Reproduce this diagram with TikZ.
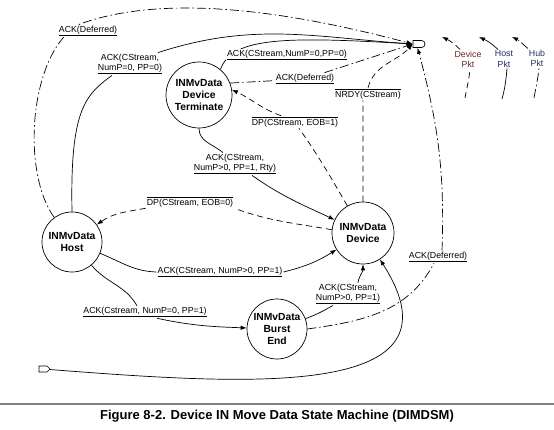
\documentclass[tikz,border=0pt]{standalone}
\usepackage{fontspec}
\setmainfont{Liberation Sans}
\usepackage{tikz}
\usetikzlibrary{arrows.meta, shapes.misc, shapes.symbols}
\definecolor{devred}{RGB}{110,35,35}
\definecolor{hostblue}{RGB}{35,40,100}
\definecolor{hubblue}{RGB}{40,50,90}
\tikzset{
  dsmstate/.style={
    draw=black, fill=white, circle,
    line width=0.7pt, inner sep=0pt, align=center,
    font=\fontsize{10.3}{11.6}\selectfont\bfseries
  },
  lbl/.style={
    fill=white, inner sep=1pt, align=center,
    font=\fontsize{8.8}{10.2}\selectfont
  },
  pkt/.style={
    inner sep=1pt, align=center,
    font=\fontsize{8.8}{10.2}\selectfont
  },
  trans/.style={
    -{Latex[length=6pt,width=4.5pt]}, line width=0.7pt, draw=black
  },
  retry/.style={trans, dash pattern=on 6pt off 4pt},
  defer/.style={trans, dash pattern=on 9pt off 3pt on 1.5pt off 3pt}
}
\newcommand{\ovl}[1]{$\overline{\mbox{#1}}$}

\begin{document}
\begin{tikzpicture}[x=1pt, y=1pt]
  \useasboundingbox (0,0) rectangle (554,-430);
  % states
  \node[dsmstate, minimum size=66pt] (term) at (199,-95) {INMvData\\Device\\Terminate};
  \node[dsmstate, minimum size=60pt] (host) at (72,-242) {INMvData\\Host};
  \node[dsmstate, minimum size=62pt] (dev) at (363,-233) {INMvData\\Device};
  \node[dsmstate, minimum size=60pt] (burst) at (277,-329) {INMvData\\Burst\\End};
  % off-page connectors
  \node[draw=black, line width=0.7pt, rounded rectangle, rounded rectangle left arc=none,
        minimum width=12pt, minimum height=7pt, inner sep=0pt] (exit) at (419,-44) {};
  \node[draw=black, line width=0.7pt, signal, signal to=east,
        minimum width=11pt, minimum height=6pt, inner sep=0pt] (entry) at (43,-369) {};

  % labels that sit on a connector
  \node[lbl] (hostack) at (130,-64) {ACK(CStream,\\\underline{NumP=0, PP=0)}};
  \node[lbl] (termdef) at (305,-79) {\underline{ACK(Deferred)}};
  \node[lbl] (dpeob1) at (295,-122) {\ovl{DP(CStream, EOB=1)}};
  \node[lbl] (nrdy) at (368,-94) {\ovl{NRDY(CStream)}};
  \node[lbl] (ackrty) at (235,-164) {ACK(CStream,\\\underline{NumP>0, PP=1, Rty)}};
  \node[lbl] (dpeob0) at (190,-202) {\ovl{DP(CStream, EOB=0)}};
  \node[lbl] (ackhd) at (220,-272) {\underline{ACK(CStream, NumP>0, PP=1)}};
  \node[lbl] (ackhb) at (145,-312) {\underline{ACK(Cstream, NumP=0, PP=1)}};
  \node[lbl] (ackbd) at (348,-294) {ACK(CStream,\\\underline{NumP>0, PP=1)}};
  \node[lbl] (burdef) at (438,-257) {\underline{ACK(Deferred)}};

  % transitions
  \draw[trans] (host.north) .. controls (70,-110) and (85,-95) .. ([xshift=-18pt]hostack.south)
    ([xshift=28pt]hostack.north) to[out=18, in=176] (exit.west);
  \draw[defer] (host) .. controls (20,-170) and (30,-50) .. (80,-24)
    .. controls (174,10) and (311,-17) .. (exit.west);
  \draw[trans] (term.50) .. controls (232,-38) and (280,-36) .. (exit.west);
  \draw[defer] (term.21) -- (termdef) -- (exit.west);
  \draw[retry] (dev) to[out=120, in=-55] ([xshift=4pt]dpeob1.south)
    ([xshift=-14pt]dpeob1.north) to[out=160, in=-25] (term.9);
  \draw[retry] (dev.north) -- (dev.north |- nrdy.south)
    (nrdy.north) to[out=75, in=-132] (exit.west);
  \draw[defer] (burst.east) to[out=8, in=-118] ([xshift=-4pt]burdef.south)
    ([xshift=4pt]burdef.north) to[out=88, in=-75] (exit.250);
  \draw[trans] (host) to[out=-22, in=178] (ackhd.west)
    (ackhd.east) to[out=14, in=212] (dev);
  \draw[trans] (term.south) to[out=-90, in=140] ([xshift=-12pt]ackrty.north)
    ([xshift=17pt]ackrty.south) to[out=-35, in=155] (dev);
  \draw[retry] (dev.174) to[out=170, in=-20] (dpeob0.south east)
    (dpeob0.south west) to[out=190, in=35] (host);
  \draw[trans] (host) to[out=-50, in=120] ([xshift=-8pt]ackhb.north)
    ([xshift=12pt]ackhb.south) to[out=-12, in=178] (burst);
  \draw[trans] (burst) to[out=20, in=210] ([xshift=-15pt]ackbd.south)
    ([xshift=10pt]ackbd.north) to[out=80, in=-90] (dev);
  \draw[trans] (entry) .. controls (250,-385) and (470,-400) .. (dev);

  % labels beside a connector
  \node[lbl] (hostdef) at (88,-31) {\underline{ACK(Deferred)}};
  \node[lbl] (termack) at (287,-55) {\underline{ACK(CStream,NumP=0,PP=0)}};

  % legend
  \node[pkt, text=devred] (devpkt) at (468,-59) {Device\\Pkt};
  \node[pkt, text=hostblue] (hostpkt) at (504,-59) {Host\\Pkt};
  \node[pkt, text=hubblue] (hubpkt) at (537,-58) {Hub\\Pkt};
  \coordinate (devtail) at (465,-98);
  \coordinate (devtip) at (442,-37);
  \coordinate (hosttail) at (502,-99);
  \coordinate (hosttip) at (479,-37);
  \coordinate (hubtail) at (534,-98);
  \coordinate (hubtip) at (512,-37);
  \draw[retry] (devtail) to[out=80, in=-95] ([xshift=2pt]devpkt.south)
    ([xshift=-8pt]devpkt.north) to[out=135, in=-25] (devtip);
  \draw[trans] (hosttail) to[out=75, in=-95] ([xshift=3pt]hostpkt.south)
    ([xshift=-6pt]hostpkt.north) to[out=135, in=-25] (hosttip);
  \draw[defer] (hubtail) to[out=80, in=-95] ([xshift=2pt]hubpkt.south)
    ([xshift=-9pt]hubpkt.north) to[out=140, in=-25] (hubtip);

  % caption
  \draw[gray, line width=1.5pt] (0,-404) -- (554,-404);
  \node[font=\fontsize{13}{15}\selectfont\bfseries] (caption) at (277,-416)
    {Figure 8-2. Device IN Move Data State Machine (DIMDSM)};
\end{tikzpicture}
\end{document}
